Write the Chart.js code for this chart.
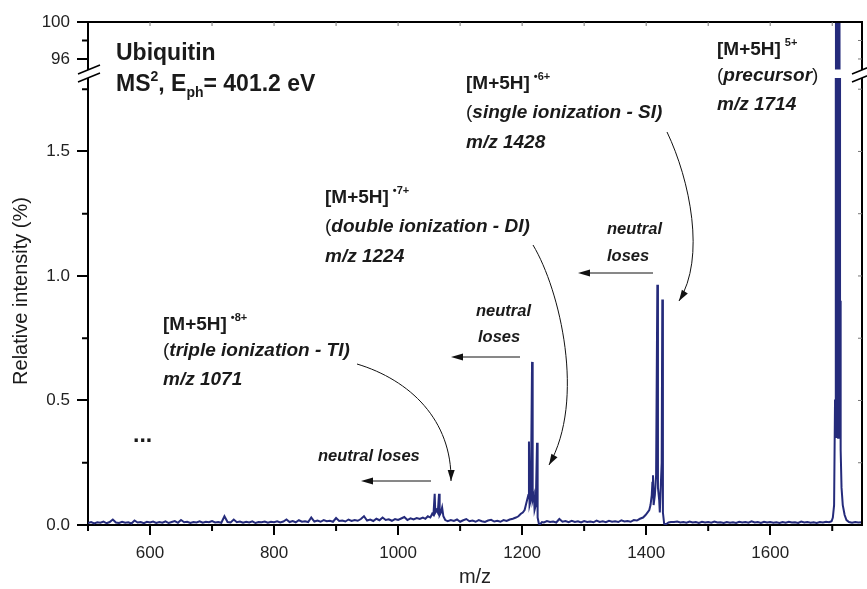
<!DOCTYPE html>
<html>
<head>
<meta charset="utf-8">
<script src="https://cdn.jsdelivr.net/npm/chart.js@4.4.1/dist/chart.umd.min.js"></script>
<style>
  html, body { margin: 0; padding: 0; background: #fff; }
  canvas { display: block; }
</style>
</head>
<body>
<canvas id="spectrum" width="867" height="589"></canvas>
<script>
// m/z and relative intensity (%), one line per region
const mzValues = [
  500, 505, 510, 515, 520, 525, 530, 535, 540, 545,
  550, 555, 560, 565, 570, 575, 580, 585, 590, 595,
  600, 605, 610, 615, 620, 625, 630, 635, 640, 645,
  650, 655, 660, 665, 670, 675, 680, 685, 690, 695,
  700, 705, 710, 715, 720, 725, 730, 735, 740, 745,
  750, 755, 760, 765, 770, 775, 780, 785, 790, 795,
  800, 805, 810, 815, 820, 825, 830, 835, 840, 845,
  850, 855, 860, 865, 870, 875, 880, 885, 890, 895,
  900, 905, 910, 915, 920, 925, 930, 935, 940, 945,
  950, 955, 960, 965, 970, 975, 980, 985, 990, 995,
  1000, 1005, 1010, 1015, 1020, 1025, 1030, 1035, 1040,
  1044, 1048, 1052, 1055, 1057, 1059, 1060, 1062, 1064, 1066, 1067, 1069, 1071, 1073, 1076,
  1080, 1085, 1090, 1095, 1100, 1105, 1110, 1115, 1120, 1125,
  1130, 1135, 1140, 1145, 1150, 1155, 1160, 1165, 1170, 1175,
  1180, 1185, 1190,
  1194, 1198, 1201, 1204, 1206, 1208, 1210, 1211, 1212, 1214, 1216, 1217, 1219, 1220, 1222, 1224, 1225, 1227, 1229, 1232,
  1235, 1240, 1245, 1250, 1255, 1260, 1265, 1270, 1275, 1280,
  1285, 1290, 1295, 1300, 1305, 1310, 1315, 1320, 1325, 1330,
  1335, 1340, 1345, 1350, 1355, 1360, 1365, 1370, 1375, 1380,
  1385, 1390,
  1395, 1399, 1402, 1405, 1407, 1409, 1410, 1411, 1412, 1414, 1416, 1418, 1419, 1421, 1422, 1423, 1425, 1426, 1427, 1429, 1432, 1436, 1440,
  1445, 1450, 1455, 1460, 1465, 1470, 1475, 1480, 1485, 1490,
  1495, 1500, 1505, 1510, 1515, 1520, 1525, 1530, 1535, 1540,
  1545, 1550, 1555, 1560, 1565, 1570, 1575, 1580, 1585, 1590,
  1595, 1600, 1605, 1610, 1615, 1620, 1625, 1630, 1635, 1640,
  1645, 1650, 1655, 1660, 1665, 1670, 1675, 1680, 1685, 1690, 1695, 1699,
  1701, 1703, 1704.5, 1705.5, 1706, 1706.5, 1707, 1707.5, 1708, 1708.5, 1709, 1709.5,
  1710, 1710.5, 1711, 1711.5, 1712, 1712.6, 1713.2, 1714, 1715, 1717, 1720, 1723,
  1727, 1732, 1737, 1742, 1748
];
const intensityValues = [
  0.008, 0.012, 0.006, 0.011, 0.009, 0.014, 0.007, 0.012, 0.022, 0.01,
  0.008, 0.013, 0.009, 0.011, 0.006, 0.018, 0.01, 0.012, 0.007, 0.013,
  0.01, 0.014, 0.008, 0.012, 0.009, 0.015, 0.008, 0.012, 0.016, 0.009,
  0.02, 0.011, 0.013, 0.008, 0.012, 0.01, 0.015, 0.009, 0.013, 0.011,
  0.016, 0.01, 0.012, 0.009, 0.035, 0.012, 0.01, 0.022, 0.011, 0.014,
  0.009, 0.013, 0.01, 0.015, 0.008, 0.012, 0.011, 0.014, 0.009, 0.013,
  0.011, 0.015, 0.01, 0.014, 0.022, 0.012, 0.016, 0.011, 0.019, 0.013,
  0.015, 0.012, 0.03, 0.014, 0.018, 0.013, 0.02, 0.015, 0.017, 0.013,
  0.028, 0.016, 0.018, 0.014, 0.022, 0.016, 0.02, 0.017, 0.024, 0.035,
  0.018, 0.022, 0.016, 0.025, 0.019, 0.03, 0.02, 0.023, 0.017, 0.024,
  0.02, 0.026, 0.032, 0.02, 0.027, 0.022, 0.028, 0.024, 0.03,
  0.025, 0.035, 0.03, 0.045, 0.04, 0.125, 0.05, 0.06, 0.05, 0.125, 0.04, 0.05, 0.07, 0.035, 0.02,
  0.015, 0.02, 0.016, 0.022, 0.013, 0.019, 0.024, 0.015, 0.018, 0.013,
  0.02, 0.015, 0.012, 0.018, 0.021, 0.014, 0.017, 0.013, 0.02, 0.016,
  0.022, 0.025, 0.03,
  0.035, 0.045, 0.05, 0.06, 0.08, 0.1, 0.12, 0.335, 0.08, 0.1, 0.655, 0.1, 0.12, 0.06, 0.08, 0.33, 0.03, 0.005, 0.003, 0.012,
  0.01, 0.016, 0.012, 0.014, 0.01, 0.024, 0.013, 0.016, 0.011, 0.017,
  0.012, 0.015, 0.01, 0.016, 0.012, 0.014, 0.011, 0.018, 0.012, 0.015,
  0.011, 0.017, 0.013, 0.015, 0.012, 0.019, 0.014, 0.016, 0.013, 0.02,
  0.018, 0.025,
  0.03, 0.04, 0.05, 0.06, 0.08, 0.12, 0.17, 0.2, 0.08, 0.12, 0.2, 0.965, 0.15, 0.1, 0.05, 0.12, 0.25, 0.905, 0.05, 0.005, 0.003, 0.01, 0.012,
  0.012, 0.014, 0.01, 0.012, 0.009, 0.014, 0.01, 0.012, 0.008, 0.013,
  0.01, 0.012, 0.009, 0.014, 0.01, 0.011, 0.008, 0.012, 0.009, 0.011,
  0.008, 0.013, 0.01, 0.012, 0.009, 0.015, 0.01, 0.012, 0.008, 0.013,
  0.01, 0.012, 0.009, 0.011, 0.008, 0.012, 0.009, 0.013, 0.01, 0.011,
  0.008, 0.014, 0.01, 0.012, 0.009, 0.011, 0.008, 0.012, 0.01, 0.013, 0.011, 0.015,
  0.03, 0.08, 0.5, 0.9, 100, 0.4, 100, 0.35, 100, 0.4, 100, 0.35,
  100, 0.4, 100, 0.35, 100, 0.9, 0.6, 0.3, 0.15, 0.08, 0.04, 0.02,
  0.012, 0.009, 0.012, 0.01, 0.011
];

const xTicks = [600, 800, 1000, 1200, 1400, 1600];
const xMinorTicks = [500, 700, 900, 1100, 1300, 1500, 1700];
const yTicks = [0, 0.5, 1.0, 1.5];
const yMinorTicks = [0.25, 0.75, 1.25, 1.75];
const yTopTicks = [96, 100];
const yTopMinorTicks = [98];

const FONT = '"Liberation Sans", Arial, Helvetica, sans-serif';
const lineColor = '#252b7b';
const textColor = '#1a1a1a';

function arrowHead(ctx, tipX, tipY, fromX, fromY, len, half) {
    const ang = Math.atan2(tipY - fromY, tipX - fromX);
    const c = Math.cos(ang), s = Math.sin(ang);
    ctx.beginPath();
    ctx.moveTo(tipX, tipY);
    ctx.lineTo(tipX - len * c + half * s, tipY - len * s - half * c);
    ctx.lineTo(tipX - len * c - half * s, tipY - len * s + half * c);
    ctx.closePath();
    ctx.fill();
}

// draws a line of text made of several runs (normal, sup, sub...)
function drawRuns(ctx, x, y, runs) {
    runs.forEach(r => {
        ctx.font = r.font;
        x += r.dx || 0;
        ctx.fillText(r.text, x, y + (r.dy || 0));
        x += ctx.measureText(r.text).width;
    });
}

const B19 = `bold 19px ${FONT}`;
const BI19 = `italic bold 19px ${FONT}`;
const R19 = `19px ${FONT}`;
const SUP = `bold 11px ${FONT}`;
const BI16 = `italic bold 16.5px ${FONT}`;

function ionLabel(ctx, x, y, charge, desc, mz) {
    drawRuns(ctx, x, y, [{ text: '[M+5H]', font: B19 }, { text: charge, font: SUP, dx: 4, dy: -9 }]);
    drawRuns(ctx, x, y + 29, [{ text: '(', font: R19 }, { text: desc, font: BI19 }]);
    drawRuns(ctx, x, y + 59, [{ text: mz, font: BI19 }]);
}

const decor = {
    id: 'decor',
    afterDatasetsDraw(chart) {
        const { ctx, chartArea: a, scales } = chart;
        const x = scales.x, y = scales.y, y2 = scales.y2;
        ctx.save();
        ctx.strokeStyle = '#000';
        ctx.lineWidth = 2;
        ctx.beginPath();
        ctx.moveTo(a.left, a.top);
        ctx.lineTo(a.right, a.top);
        ctx.lineTo(a.right, a.bottom);
        ctx.stroke();

        // minor ticks, outside
        ctx.beginPath();
        xMinorTicks.forEach(v => {
            const px = x.getPixelForValue(v);
            ctx.moveTo(px, a.bottom); ctx.lineTo(px, a.bottom + 6);
        });
        yMinorTicks.forEach(v => {
            const py = y.getPixelForValue(v);
            ctx.moveTo(a.left, py); ctx.lineTo(a.left - 6, py);
        });
        yTopMinorTicks.forEach(v => {
            const py = y2.getPixelForValue(v);
            ctx.moveTo(a.left, py); ctx.lineTo(a.left - 6, py);
        });
        ctx.stroke();

        // small inner ticks on the mirrored top and right axes
        ctx.strokeStyle = '#777';
        ctx.lineWidth = 1;
        ctx.beginPath();
        xTicks.concat(xMinorTicks).forEach(v => {
            const px = x.getPixelForValue(v);
            if (px <= a.left + 2) return;
            ctx.moveTo(px, a.top); ctx.lineTo(px, a.top + 4);
        });
        yTicks.concat(yMinorTicks).forEach(v => {
            const py = y.getPixelForValue(v);
            if (py >= a.bottom - 2) return;
            ctx.moveTo(a.right, py); ctx.lineTo(a.right - 4, py);
        });
        yTopTicks.concat(yTopMinorTicks).forEach(v => {
            const py = y2.getPixelForValue(v);
            if (py <= a.top + 2) return;
            ctx.moveTo(a.right, py); ctx.lineTo(a.right - 4, py);
        });
        ctx.stroke();

        // axis break
        const by = y2.bottom;
        ctx.fillStyle = '#fff';
        ctx.fillRect(a.left + 2, by - 4, a.right - a.left - 4, 8.5);
        [a.left, a.right].forEach(ax => {
            ctx.beginPath();
            ctx.moveTo(ax - 10, by + 0.5);
            ctx.lineTo(ax + 12, by - 8.5);
            ctx.lineTo(ax + 12, by - 0.5);
            ctx.lineTo(ax - 10, by + 8.5);
            ctx.closePath();
            ctx.fill();
        });
        ctx.strokeStyle = '#000';
        ctx.lineWidth = 1.5;
        ctx.beginPath();
        [a.left, a.right].forEach(ax => {
            ctx.moveTo(ax - 10, by + 0.5); ctx.lineTo(ax + 12, by - 8.5);
            ctx.moveTo(ax - 10, by + 8.5); ctx.lineTo(ax + 12, by - 0.5);
        });
        ctx.stroke();
        ctx.restore();
    },
    afterDraw(chart) {
        const { ctx } = chart;
        ctx.save();
        ctx.fillStyle = textColor;
        ctx.textBaseline = 'alphabetic';
        ctx.textAlign = 'left';

        // y title
        ctx.save();
        ctx.translate(21, 291);
        ctx.rotate(-Math.PI / 2);
        ctx.textAlign = 'center';
        ctx.textBaseline = 'middle';
        ctx.font = `20px ${FONT}`;
        ctx.fillText('Relative intensity (%)', 0, 0);
        ctx.restore();

        const B23 = `bold 23px ${FONT}`;
        const B14 = `bold 14px ${FONT}`;
        drawRuns(ctx, 116, 60, [{ text: 'Ubiquitin', font: B23 }]);
        drawRuns(ctx, 116, 91, [
            { text: 'MS', font: B23 }, { text: '2', font: B14, dy: -10 },
            { text: ', E', font: B23 }, { text: 'ph', font: B14, dy: 6 },
            { text: '= 401.2 eV', font: B23 }
        ]);

        // precursor
        drawRuns(ctx, 717, 55, [{ text: '[M+5H]', font: B19 }, { text: '5+', font: SUP, dx: 4, dy: -9 }]);
        drawRuns(ctx, 717, 81, [{ text: '(', font: R19 }, { text: 'precursor', font: BI19 }, { text: ')', font: R19 }]);
        drawRuns(ctx, 717, 110, [{ text: 'm/z 1714', font: BI19 }]);

        ionLabel(ctx, 466, 89, '\u20226+', 'single ionization - SI)', 'm/z 1428');
        ionLabel(ctx, 325, 203, '\u20227+', 'double ionization - DI)', 'm/z 1224');
        drawRuns(ctx, 163, 330, [{ text: '[M+5H]', font: B19 }, { text: '\u20228+', font: SUP, dx: 4, dy: -9 }]);
        drawRuns(ctx, 163, 356, [{ text: '(', font: R19 }, { text: 'triple ionization - TI)', font: BI19 }]);
        drawRuns(ctx, 163, 385, [{ text: 'm/z 1071', font: BI19 }]);

        drawRuns(ctx, 133, 442, [{ text: '...', font: B23 }]);

        // neutral loses
        drawRuns(ctx, 607, 234, [{ text: 'neutral', font: BI16 }]);
        drawRuns(ctx, 607, 261, [{ text: 'loses', font: BI16 }]);
        drawRuns(ctx, 476, 316, [{ text: 'neutral', font: BI16 }]);
        drawRuns(ctx, 478, 342, [{ text: 'loses', font: BI16 }]);
        drawRuns(ctx, 318, 461, [{ text: 'neutral loses', font: BI16 }]);

        ctx.strokeStyle = '#111';
        ctx.fillStyle = '#111';
        ctx.lineWidth = 1;
        [[653, 578, 273], [520, 451, 357], [431, 361, 481]].forEach(([x0, x1, yy]) => {
            ctx.beginPath();
            ctx.moveTo(x0, yy); ctx.lineTo(x1 + 8, yy);
            ctx.stroke();
            arrowHead(ctx, x1, yy, x0, yy, 12, 3.5);
        });

        // curved pointers to the peaks
        [
            [667, 132, 690, 180, 706, 258, 679, 301],
            [533, 245, 560, 290, 586, 400, 549, 465],
            [357, 364, 410, 380, 452, 420, 451, 481]
        ].forEach(([sx, sy, c1x, c1y, c2x, c2y, ex, ey]) => {
            ctx.beginPath();
            ctx.moveTo(sx, sy);
            ctx.bezierCurveTo(c1x, c1y, c2x, c2y, ex, ey);
            ctx.stroke();
            arrowHead(ctx, ex, ey, c2x, c2y, 11, 3.5);
        });
        ctx.restore();
    }
};

const tickFont = { family: FONT, size: 17 };
const axisGrid = { drawOnChartArea: false, drawTicks: true, tickLength: 10, color: '#000', lineWidth: 2, tickWidth: 2 };
const axisBorder = { display: true, color: '#000', width: 2 };

const spectrum = mzValues.map((m, i) => ({ x: m, y: intensityValues[i] }));
// the precursor top is also drawn on the upper (broken) part of the y axis
const precursorTop = spectrum.filter(p => p.x >= 1705.5 && p.x <= 1712.6);

const ctx = document.getElementById('spectrum').getContext('2d');
const chart = new Chart(ctx, {
    type: 'line',
    data: {
        datasets: [{
            data: spectrum,
            borderColor: lineColor,
            borderWidth: 2,
            pointRadius: 0,
            tension: 0,
            fill: false,
            yAxisID: 'y'
        }, {
            data: precursorTop,
            borderColor: lineColor,
            borderWidth: 2,
            pointRadius: 0,
            tension: 0,
            fill: false,
            yAxisID: 'y2'
        }]
    },
    options: {
        responsive: false,
        animation: false,
        events: [],
        layout: { padding: { top: 22, right: 5, left: 0, bottom: 0 } },
        plugins: { legend: { display: false }, tooltip: { enabled: false } },
        scales: {
            x: {
                type: 'linear', position: 'bottom', min: 500, max: 1748,
                afterBuildTicks: s => { s.ticks = xTicks.map(v => ({ value: v })); },
                ticks: { font: tickFont, color: '#222', padding: 8, maxRotation: 0, callback: v => String(v) },
                grid: axisGrid, border: axisBorder,
                title: { display: true, text: 'm/z', color: '#222', font: { family: FONT, size: 20 }, padding: { top: 0, bottom: 0 } },
                afterFit: s => { s.height = 64; }
            },
            y2: {
                type: 'linear', position: 'left', stack: 'left', stackWeight: 51.5, weight: 1,
                min: 94.43, max: 100,
                afterBuildTicks: s => { s.ticks = yTopTicks.map(v => ({ value: v })); },
                ticks: { font: tickFont, color: '#222', padding: 7, callback: v => String(v) },
                grid: Object.assign({}, axisGrid, { tickLength: 11 }), border: axisBorder,
                afterFit: s => { s.width = 88; }
            },
            y: {
                type: 'linear', position: 'left', stack: 'left', stackWeight: 451.5, weight: 0,
                min: 0, max: 1.813,
                afterBuildTicks: s => { s.ticks = yTicks.map(v => ({ value: v })); },
                ticks: { font: tickFont, color: '#222', padding: 7, callback: v => v.toFixed(1) },
                grid: Object.assign({}, axisGrid, { tickLength: 11 }), border: axisBorder,
                afterFit: s => { s.width = 88; }
            }
        }
    },
    plugins: [decor]
});
</script>
</body>
</html>
